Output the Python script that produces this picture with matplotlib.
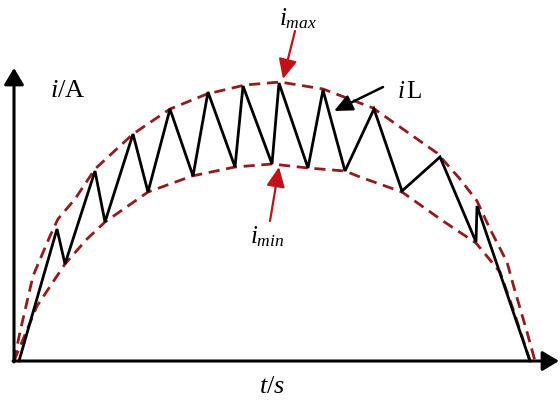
import matplotlib
matplotlib.use("Agg")
import matplotlib.pyplot as plt

plt.rcParams['font.family'] = ['Liberation Serif', 'DejaVu Serif']
plt.rcParams['mathtext.fontset'] = 'custom'
plt.rcParams['mathtext.rm'] = 'Liberation Serif'
plt.rcParams['mathtext.it'] = 'Liberation Serif:italic'

# inductor current zigzag (t, i)
zig_t = [5, 43, 51, 81, 91, 119, 134, 156, 179, 194, 221, 229, 258, 265,
         294, 309, 331, 360, 388, 426, 462, 463, 516]
zig_i = [0, 132, 97, 190, 139, 227, 169, 252, 185, 269, 194, 275, 197, 278,
         193, 271, 190, 252, 170, 204, 119, 155, 0]

# upper envelope (i_max)
up_t = [0, 6, 19, 36, 44, 61, 81, 119, 156, 193, 231, 266, 309, 359,
        423, 446, 463, 476, 493, 499, 513, 521]
up_i = [0, 29, 85, 125, 142, 162, 192, 227, 252, 267, 276, 279, 272, 253,
        208, 182, 160, 132, 99, 77, 29, 0]

# lower envelope (i_min)
lo_t = [0, 23, 51, 73, 91, 134, 178, 221, 258, 294, 331, 346, 388, 429,
        462, 486, 499, 516]
lo_i = [0, 55, 97, 122, 139, 169, 185, 194, 197, 193, 190, 184, 169, 140,
        118, 89, 52, 0]

DASH_RED = '#931b1b'
ARROW_RED = '#c0121b'

fig = plt.figure(figsize=(5.6, 4.06), dpi=100)
ax = fig.add_axes([0, 0, 1, 1])
ax.set_xlim(-14, 546)
ax.set_ylim(-44, 362)
ax.axis('off')

ax.plot(up_t, up_i, color=DASH_RED, lw=2.0, dashes=(4, 2.4))
ax.plot(lo_t, lo_i, color=DASH_RED, lw=2.0, dashes=(4, 2.4))
ax.plot(zig_t, zig_i, color='black', lw=2.0, solid_joinstyle='miter')

# axes with arrow heads
axis_style = dict(arrowstyle='-|>,head_length=0.5,head_width=0.3',
                  lw=2.2, color='black', shrinkA=0, shrinkB=0,
                  mutation_scale=20)
ax.annotate('', xy=(0, 293), xytext=(0, -1), arrowprops=axis_style)
ax.annotate('', xy=(545, 0), xytext=(-1, 0), arrowprops=axis_style)

ax.text(54, 271, r'$i/\mathrm{A}$', fontsize=19, ha='center', va='center')
ax.text(258, -25, r'$t/s$', fontsize=19, ha='center', va='center')

# labels with pointer arrows
red_style = dict(arrowstyle='-|>,head_length=0.6,head_width=0.28',
                 lw=1.6, color=ARROW_RED, shrinkA=0, shrinkB=0,
                 mutation_scale=20)
ax.annotate('', xy=(269, 282), xytext=(281, 330), arrowprops=red_style)
ax.text(284, 343, r'$i_{max}$', fontsize=18, ha='center', va='center')

ax.annotate('', xy=(265, 194), xytext=(256, 140), arrowprops=red_style)
ax.text(253, 125, r'$i_{min}$', fontsize=18, ha='center', va='center')

blk_style = dict(arrowstyle='-|>,head_length=0.55,head_width=0.25',
                 lw=1.8, color='black', shrinkA=0, shrinkB=0,
                 mutation_scale=20)
ax.annotate('', xy=(320, 250), xytext=(369, 274), arrowprops=blk_style)
ax.text(396, 270, r'$i\,\mathrm{L}$', fontsize=18, ha='center', va='center')

fig.savefig('out.png', dpi=100)
